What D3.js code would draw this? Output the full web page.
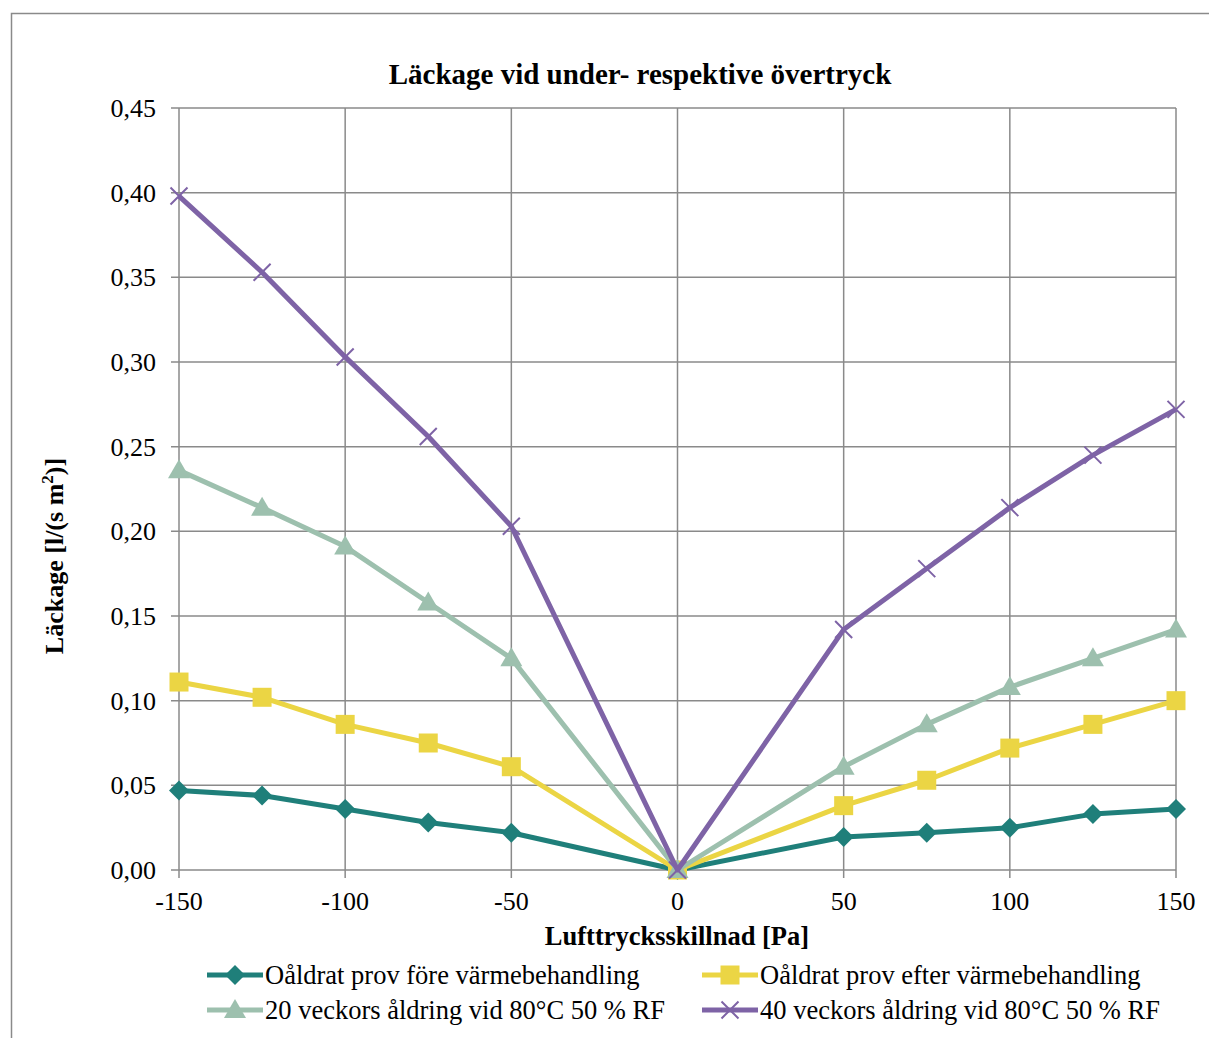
<!DOCTYPE html>
<html>
<head>
<meta charset="utf-8">
<script src="https://cdn.jsdelivr.net/npm/d3@7"></script>
<style>
  body { margin: 0; background: #fff; }
  text { font-family: "Liberation Serif", "Times New Roman", serif; fill: #000; }
</style>
</head>
<body>
<script>
var pressure = [-150, -125, -100, -75, -50, 0, 50, 75, 100, 125, 150];

var fore   = [0.047, 0.044, 0.036, 0.028, 0.022, 0, 0.0195, 0.022, 0.025, 0.033, 0.036];
var efter  = [0.111, 0.102, 0.086, 0.075, 0.061, 0, 0.038, 0.053, 0.072, 0.086, 0.100];
var v20    = [0.236, 0.214, 0.191, 0.158, 0.125, 0, 0.061, 0.086, 0.108, 0.125, 0.142];
var v40    = [0.398, 0.353, 0.303, 0.256, 0.203, 0, 0.142, 0.178, 0.214, 0.245, 0.272];

var xTicks = [-150, -100, -50, 0, 50, 100, 150];
var yTicks = [0, 0.05, 0.10, 0.15, 0.20, 0.25, 0.30, 0.35, 0.40, 0.45];

var series = [
  {name: "Oåldrat prov före värmebehandling", values: fore, color: "#1f7f7a", marker: "diamond"},
  {name: "Oåldrat prov efter värmebehandling", values: efter, color: "#ebd544", marker: "square"},
  {name: "20 veckors åldring vid 80°C 50 % RF", values: v20, color: "#9dc0ae", marker: "triangle"},
  {name: "40 veckors åldring vid 80°C 50 % RF", values: v40, color: "#7e63a6", marker: "cross"}
];

var W = 1209, H = 1038;
var margin = {left: 179, right: 33, top: 108, bottom: 168};

var svg = d3.select("body").append("svg")
    .attr("width", W)
    .attr("height", H);

// outer frame
svg.append("rect")
    .attr("x", 11.5).attr("y", 13.5)
    .attr("width", 1210).attr("height", 1040)
    .attr("fill", "none")
    .attr("stroke", "#8a8a8a")
    .attr("stroke-width", 1.5);

var x = d3.scaleLinear().domain([-150, 150]).range([margin.left, W - margin.right]);
var y = d3.scaleLinear().domain([0, 0.45]).range([H - margin.bottom, margin.top]);

var fmt = function(d) { return d3.format(".2f")(d).replace(".", ","); };

// grid
var grid = svg.append("g").attr("stroke", "#8a8a8a").attr("stroke-width", 1.5);
grid.selectAll(".h").data(yTicks).enter().append("line")
    .attr("x1", x(-150) - 8).attr("x2", x(150))
    .attr("y1", function(d) { return y(d); })
    .attr("y2", function(d) { return y(d); });
grid.selectAll(".v").data(xTicks).enter().append("line")
    .attr("x1", function(d) { return x(d); })
    .attr("x2", function(d) { return x(d); })
    .attr("y1", y(0.45)).attr("y2", y(0) + 8);

// tick labels
svg.selectAll(".yl").data(yTicks).enter().append("text")
    .attr("x", x(-150) - 23)
    .attr("y", function(d) { return y(d) + 9; })
    .attr("text-anchor", "end")
    .attr("font-size", 26)
    .text(fmt);

svg.selectAll(".xl").data(xTicks).enter().append("text")
    .attr("x", function(d) { return x(d); })
    .attr("y", y(0) + 40)
    .attr("text-anchor", "middle")
    .attr("font-size", 26)
    .text(function(d) { return d; });

// titles
svg.append("text")
    .attr("x", 640).attr("y", 84)
    .attr("text-anchor", "middle")
    .attr("font-size", 29).attr("font-weight", "bold")
    .text("Läckage vid under- respektive övertryck");

svg.append("text")
    .attr("x", 677).attr("y", 945)
    .attr("text-anchor", "middle")
    .attr("font-size", 26.5).attr("font-weight", "bold")
    .text("Lufttrycksskillnad [Pa]");

var yt = svg.append("text")
    .attr("transform", "translate(63,556) rotate(-90)")
    .attr("text-anchor", "middle")
    .attr("font-size", 26).attr("font-weight", "bold");
yt.append("tspan").text("Läckage [l/(s m");
yt.append("tspan").attr("font-size", 17).attr("dy", -10).text("2");
yt.append("tspan").attr("dy", 10).text(")]");

// markers
function drawMarker(g, type, color, cx, cy) {
  if (type === "diamond") {
    g.append("path").attr("d", "M" + cx + "," + (cy - 10) + "L" + (cx + 10) + "," + cy + "L" + cx + "," + (cy + 10) + "L" + (cx - 10) + "," + cy + "Z")
      .attr("fill", color);
  } else if (type === "square") {
    g.append("rect").attr("x", cx - 9.5).attr("y", cy - 9.5)
      .attr("width", 19).attr("height", 19).attr("fill", color);
  } else if (type === "triangle") {
    g.append("path").attr("d", "M" + cx + "," + (cy - 11) + "L" + (cx + 11) + "," + (cy + 8) + "L" + (cx - 11) + "," + (cy + 8) + "Z")
      .attr("fill", color);
  } else {
    g.append("path").attr("d", "M" + (cx - 8.5) + "," + (cy - 8.5) + "L" + (cx + 8.5) + "," + (cy + 8.5) + "M" + (cx - 8.5) + "," + (cy + 8.5) + "L" + (cx + 8.5) + "," + (cy - 8.5))
      .attr("stroke", color).attr("stroke-width", 2).attr("fill", "none");
  }
}

var line = d3.line()
    .x(function(d, i) { return x(pressure[i]); })
    .y(function(d) { return y(d); });

series.forEach(function(s) {
  var g = svg.append("g");
  g.append("path")
    .attr("d", line(s.values))
    .attr("fill", "none")
    .attr("stroke", s.color)
    .attr("stroke-width", 5)
    .attr("stroke-linejoin", "round");
  s.values.forEach(function(v, i) {
    drawMarker(g, s.marker, s.color, x(pressure[i]), y(v));
  });
});

// legend
var legPos = [[207, 975], [702, 975], [207, 1010], [702, 1010]];
series.forEach(function(s, i) {
  var g = svg.append("g");
  var lx = legPos[i][0], ly = legPos[i][1];
  g.append("line")
    .attr("x1", lx).attr("x2", lx + 56)
    .attr("y1", ly).attr("y2", ly)
    .attr("stroke", s.color).attr("stroke-width", 5);
  drawMarker(g, s.marker, s.color, lx + 28, ly);
  g.append("text")
    .attr("x", lx + 58).attr("y", ly + 9)
    .attr("font-size", 26.5)
    .text(s.name);
});
</script>
</body>
</html>
